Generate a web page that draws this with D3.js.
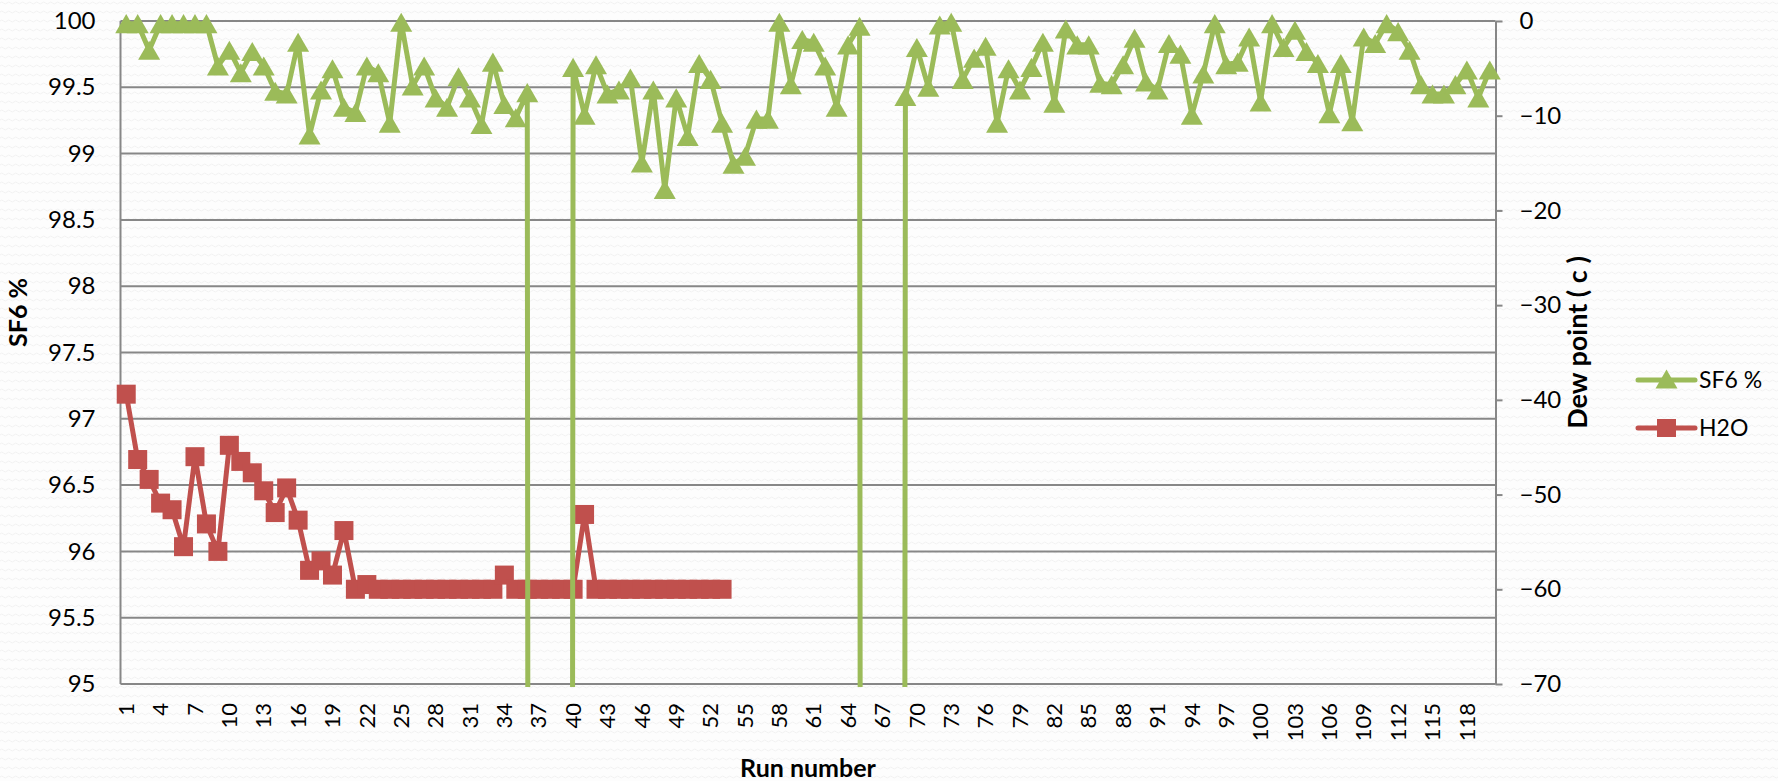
<!DOCTYPE html>
<html>
<head>
<meta charset="utf-8">
<script src="https://cdn.jsdelivr.net/npm/d3@7"></script>
<style>
    body { margin: 0; background: #ffffff; }
    text { font-family: Lato, "Open Sans", sans-serif; fill: #000000; }
</style>
</head>
<body>
<div id="chart"></div>
<script>
//chart data
var runNumbers = d3.range(1, 121);
var runTickLabels = d3.range(1, 121, 3);

//SF6 purity in %, runs 1-120 (0 = no reading, falls off the bottom)
var sf6Values = [
    99.98, 99.98, 99.78, 99.98, 99.98, 99.98, 99.98, 99.98, 99.66, 99.78,
    99.61, 99.77, 99.66, 99.47, 99.45, 99.84, 99.14, 99.48, 99.64, 99.35,
    99.31, 99.66, 99.61, 99.23, 99.99, 99.51, 99.66, 99.42, 99.35, 99.58,
    99.42, 99.22, 99.69, 99.37, 99.27, 99.46, 0, 0, 0, 99.65,
    99.29, 99.67, 99.45, 99.48, 99.57, 98.93, 99.48, 98.73, 99.42, 99.13,
    99.68, 99.56, 99.23, 98.92, 98.98, 99.26, 99.26, 99.99, 99.52, 99.86,
    99.84, 99.66, 99.35, 99.82, 99.96, 0, 0, 0, 99.43, 99.80,
    99.50, 99.97, 99.99, 99.56, 99.72, 99.81, 99.23, 99.64, 99.48, 99.65,
    99.84, 99.38, 99.94, 99.82, 99.82, 99.53, 99.52, 99.67, 99.87, 99.54,
    99.48, 99.83, 99.75, 99.29, 99.60, 99.98, 99.67, 99.69, 99.88, 99.39,
    99.98, 99.80, 99.93, 99.77, 99.68, 99.30, 99.68, 99.24, 99.88, 99.83,
    99.98, 99.92, 99.78, 99.52, 99.45, 99.45, 99.52, 99.63, 99.42, 99.63
];

//H2O dew point in degrees c, runs 1-53
var h2oValues = [
    -39.4, -46.3, -48.4, -50.9, -51.6, -55.5, -46.0, -53.1, -56.0, -44.8,
    -46.5, -47.7, -49.6, -51.9, -49.3, -52.7, -58.0, -57.0, -58.5, -53.8,
    -60.0, -59.5, -60.0, -60.0, -60.0, -60.0, -60.0, -60.0, -60.0, -60.0,
    -60.0, -60.0, -60.0, -58.5, -60.0, -60.0, -60.0, -60.0, -60.0, -60.0,
    -52.1, -60.0, -60.0, -60.0, -60.0, -60.0, -60.0, -60.0, -60.0, -60.0,
    -60.0, -60.0, -60.0
];

var sf6Ticks = [95, 95.5, 96, 96.5, 97, 97.5, 98, 98.5, 99, 99.5, 100];
var dewTicks = [-70, -60, -50, -40, -30, -20, -10, 0];

var seriesNames = ["SF6 %", "H2O"];
var seriesColors = ["#9bbb59", "#c0504d"];

//set svg dimensions
var svgWidth = 1778;
var svgHeight = 781;

var margin = {
    top: 21,
    right: 282.5,
    bottom: 97,
    left: 120.5
};

var width = svgWidth - margin.left - margin.right;
var height = svgHeight - margin.top - margin.bottom;

var svg = d3.select("#chart")
    .append("svg")
    .attr("width", svgWidth)
    .attr("height", svgHeight);

//faint wavy paper texture behind everything
var defs = svg.append("defs");
var pattern = defs.append("pattern")
    .attr("id", "waves")
    .attr("patternUnits", "userSpaceOnUse")
    .attr("width", 7)
    .attr("height", 9);
pattern.append("path")
    .attr("d", "M0,3 Q1.75,1 3.5,3 T7,3")
    .attr("fill", "none")
    .attr("stroke", "#f1f1f1")
    .attr("stroke-width", 1);

svg.append("rect")
    .attr("width", svgWidth)
    .attr("height", svgHeight)
    .attr("fill", "#fdfdfd");
svg.append("rect")
    .attr("width", svgWidth)
    .attr("height", svgHeight)
    .attr("fill", "url(#waves)");

//clip lines to the plot area like the spreadsheet does
defs.append("clipPath")
    .attr("id", "plotClip")
    .append("rect")
    .attr("x", -12)
    .attr("y", -16)
    .attr("width", width + 24)
    .attr("height", height + 19);

var chartGroup = svg.append("g")
    .attr("transform", `translate(${margin.left}, ${margin.top})`);

//scales
var xScale = d3.scaleBand()
    .domain(runNumbers)
    .range([0, width])
    .padding(0);
var xCenter = d => xScale(d) + xScale.bandwidth() / 2;

var yLeft = d3.scaleLinear().domain([95, 100]).range([height, 0]);
var yRight = d3.scaleLinear().domain([-70, 0]).range([height, 0]);

//horizontal gridlines
chartGroup.append("g")
    .selectAll("line")
    .data(sf6Ticks)
    .enter()
    .append("line")
    .attr("x1", 0)
    .attr("x2", width)
    .attr("y1", d => yLeft(d))
    .attr("y2", d => yLeft(d))
    .attr("stroke", "#878787")
    .attr("stroke-width", 2);

//left axis (labels only, the line is drawn below)
var leftAxis = d3.axisLeft(yLeft)
    .tickValues(sf6Ticks)
    .tickFormat(d3.format("~g"))
    .tickSize(0)
    .tickPadding(25);
var leftG = chartGroup.append("g").call(leftAxis);
leftG.select(".domain").remove();
leftG.selectAll("text")
    .style("font-size", "24px")
    .style("font-family", "Lato, sans-serif");

chartGroup.append("line")
    .attr("x1", 0).attr("x2", 0)
    .attr("y1", 0).attr("y2", height)
    .attr("stroke", "#878787")
    .attr("stroke-width", 2);

//right axis for dew point
var rightAxis = d3.axisRight(yRight)
    .tickValues(dewTicks)
    .tickSize(7)
    .tickSizeOuter(0)
    .tickPadding(17);
var rightG = chartGroup.append("g")
    .attr("transform", `translate(${width}, 0)`)
    .call(rightAxis);
rightG.select(".domain")
    .attr("stroke", "#878787")
    .attr("stroke-width", 2);
rightG.selectAll(".tick line")
    .attr("stroke", "#878787")
    .attr("stroke-width", 2);
rightG.selectAll("text")
    .style("font-size", "24px")
    .style("font-family", "Lato, sans-serif");

//x axis labels, rotated, every third run
chartGroup.append("g")
    .selectAll("text")
    .data(runTickLabels)
    .enter()
    .append("text")
    .attr("transform", d => `translate(${xCenter(d)}, ${height + 19}) rotate(-90)`)
    .attr("dy", "0.35em")
    .attr("text-anchor", "end")
    .style("font-size", "22px")
    .text(d => d);

//axis titles
chartGroup.append("text")
    .attr("transform", `translate(${-94}, ${height / 2 - 40}) rotate(-90)`)
    .attr("text-anchor", "middle")
    .style("font-weight", "bold")
    .style("font-size", "25px")
    .text("SF6 %");

chartGroup.append("text")
    .attr("transform", `translate(${width + 91}, ${height / 2 - 10}) rotate(-90)`)
    .attr("text-anchor", "middle")
    .style("font-weight", "bold")
    .style("font-size", "27px")
    .text("Dew point ( c )");

chartGroup.append("text")
    .attr("x", width / 2)
    .attr("y", height + 93)
    .attr("text-anchor", "middle")
    .style("font-weight", "bold")
    .style("font-size", "25px")
    .text("Run number");

//series lines
var plotArea = chartGroup.append("g").attr("clip-path", "url(#plotClip)");

var sf6Line = d3.line()
    .x((d, i) => xCenter(runNumbers[i]))
    .y(d => yLeft(d));
var h2oLine = d3.line()
    .x((d, i) => xCenter(runNumbers[i]))
    .y(d => yRight(d));

plotArea.append("path")
    .datum(h2oValues)
    .attr("d", h2oLine)
    .attr("fill", "none")
    .attr("stroke", seriesColors[1])
    .attr("stroke-width", 5)
    .attr("stroke-linejoin", "round");

plotArea.selectAll(".h2o")
    .data(h2oValues)
    .enter()
    .append("rect")
    .classed("h2o", true)
    .attr("x", (d, i) => xCenter(runNumbers[i]) - 9.5)
    .attr("y", d => yRight(d) - 9.5)
    .attr("width", 19)
    .attr("height", 19)
    .attr("fill", seriesColors[1]);

plotArea.append("path")
    .datum(sf6Values)
    .attr("d", sf6Line)
    .attr("fill", "none")
    .attr("stroke", seriesColors[0])
    .attr("stroke-width", 5)
    .attr("stroke-linejoin", "round");

//triangle marker, shifted so its box (not its centroid) sits on the value
var triSize = 210;
var triShift = Math.sqrt(triSize / (Math.sqrt(3) * 3)) / 2;
var triangle = d3.symbol().type(d3.symbolTriangle).size(triSize);
plotArea.selectAll(".sf6")
    .data(sf6Values)
    .enter()
    .append("path")
    .classed("sf6", true)
    .attr("transform", (d, i) => `translate(${xCenter(runNumbers[i])}, ${yLeft(d) + triShift})`)
    .attr("d", triangle)
    .attr("fill", seriesColors[0]);

//legend
var legend = svg.append("g")
    .attr("transform", "translate(1638, 380)");
var legendItems = legend.selectAll("g")
    .data(seriesNames)
    .enter()
    .append("g")
    .attr("transform", (d, i) => `translate(0, ${i * 48})`);

legendItems.append("line")
    .attr("x1", 0).attr("x2", 57)
    .attr("stroke", (d, i) => seriesColors[i])
    .attr("stroke-width", 5)
    .attr("stroke-linecap", "round");

legendItems.each(function(d, i) {
    var g = d3.select(this);
    if (i === 0) {
        g.append("path")
            .attr("transform", `translate(28.5, ${triShift - 1})`)
            .attr("d", triangle)
            .attr("fill", seriesColors[0]);
    } else {
        g.append("rect")
            .attr("x", 19).attr("y", -9)
            .attr("width", 19).attr("height", 18)
            .attr("fill", seriesColors[1]);
    }
});

legendItems.append("text")
    .attr("x", 61)
    .attr("dy", "0.35em")
    .style("font-size", "23px")
    .text(d => d);
</script>
</body>
</html>
